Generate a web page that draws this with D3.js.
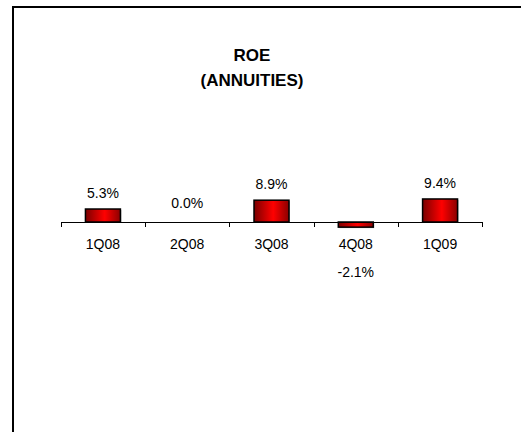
<!DOCTYPE html>
<html>
<head>
<meta charset="utf-8">
<script src="https://cdn.jsdelivr.net/npm/d3@7/dist/d3.min.js"></script>
<style>
  html, body { margin: 0; padding: 0; background: #fff; }
  svg { display: block; }
  text { font-family: "Liberation Sans", Arial, sans-serif; fill: #000; }
</style>
</head>
<body>
<svg id="chart" width="521" height="432"></svg>
<script>
// Quarterly return on equity, annuities segment
const quarters = ["1Q08", "2Q08", "3Q08", "4Q08", "1Q09"];
const roeValues = [5.3, 0.0, 8.9, -2.1, 9.4];
const valueLabels = ["5.3%", "0.0%", "8.9%", "-2.1%", "9.4%"];
const titleLines = ["ROE", "(ANNUITIES)"];

const svg = d3.select("#chart");

// gradient giving the bars a rounded, cylinder-like shading
const defs = svg.append("defs");
const grad = defs.append("linearGradient")
  .attr("id", "barFill").attr("x1", "0%").attr("x2", "100%").attr("y1", "0%").attr("y2", "0%");
grad.append("stop").attr("offset", "0%").attr("stop-color", "#7a0000");
grad.append("stop").attr("offset", "55%").attr("stop-color", "#ff0000");
grad.append("stop").attr("offset", "100%").attr("stop-color", "#8a0000");

// frame (left and top edges visible)
svg.append("path")
  .attr("d", "M13,432 L13,7 L521,7")
  .attr("fill", "none").attr("stroke", "#000").attr("stroke-width", 2);

// title
svg.selectAll("text.title").data(titleLines).enter().append("text")
  .attr("class", "title")
  .attr("x", 252)
  .attr("y", (d, i) => 61 + i * 25)
  .attr("text-anchor", "middle")
  .style("font-size", "17px")
  .style("font-weight", "bold")
  .text(d => d);

const x = d3.scaleBand().domain(quarters).range([61, 482])
  .paddingInner(0.585).paddingOuter(0.29);
const y = d3.scaleLinear().domain([-20, 20]).range([271, 173]);

// bars
const bars = svg.append("g");
bars.selectAll("rect.shadow").data(roeValues).enter().append("rect")
  .attr("x", (d, i) => x(quarters[i]) + 1)
  .attr("y", d => Math.min(y(d), y(0)) + 1)
  .attr("width", x.bandwidth())
  .attr("height", d => Math.abs(y(d) - y(0)))
  .attr("fill", "#9a9a9a")
  .attr("opacity", d => d === 0 ? 0 : 0.7);
bars.selectAll("rect.bar").data(roeValues).enter().append("rect")
  .attr("class", "bar")
  .attr("x", (d, i) => x(quarters[i]))
  .attr("y", d => Math.min(y(d), y(0)))
  .attr("width", x.bandwidth())
  .attr("height", d => Math.abs(y(d) - y(0)))
  .attr("fill", "url(#barFill)")
  .attr("stroke", "#000")
  .attr("stroke-width", d => d === 0 ? 0 : 1.5);

// category axis through zero
const axis = d3.axisBottom(x).tickSize(0).tickFormat("");
const axisG = svg.append("g").attr("transform", `translate(0,${y(0)})`).call(axis);
axisG.select(".domain").attr("stroke", "#000").attr("d", `M61.5,0.5H482.5`);
// tick marks on category boundaries
const boundaries = quarters.map(q => x(q) - x.step() * x.paddingInner() / 2).concat([482]);
axisG.selectAll("line.sep").data(boundaries).enter().append("line")
  .attr("class", "sep")
  .attr("x1", d => Math.round(d) + 0.5).attr("x2", d => Math.round(d) + 0.5)
  .attr("y1", 0).attr("y2", 5)
  .attr("stroke", "#000");

// category labels
svg.selectAll("text.cat").data(quarters).enter().append("text")
  .attr("class", "cat")
  .attr("x", d => x(d) + x.bandwidth() / 2)
  .attr("y", 249)
  .attr("text-anchor", "middle")
  .style("font-size", "14px")
  .text(d => d);

// value labels
svg.selectAll("text.val").data(roeValues).enter().append("text")
  .attr("class", "val")
  .attr("x", (d, i) => x(quarters[i]) + x.bandwidth() / 2)
  .attr("y", d => d < 0 ? y(d) + 50 : (d === 0 ? y(0) - 14 : y(d) - 11))
  .attr("text-anchor", "middle")
  .style("font-size", "14px")
  .text((d, i) => valueLabels[i]);
</script>
</body>
</html>
